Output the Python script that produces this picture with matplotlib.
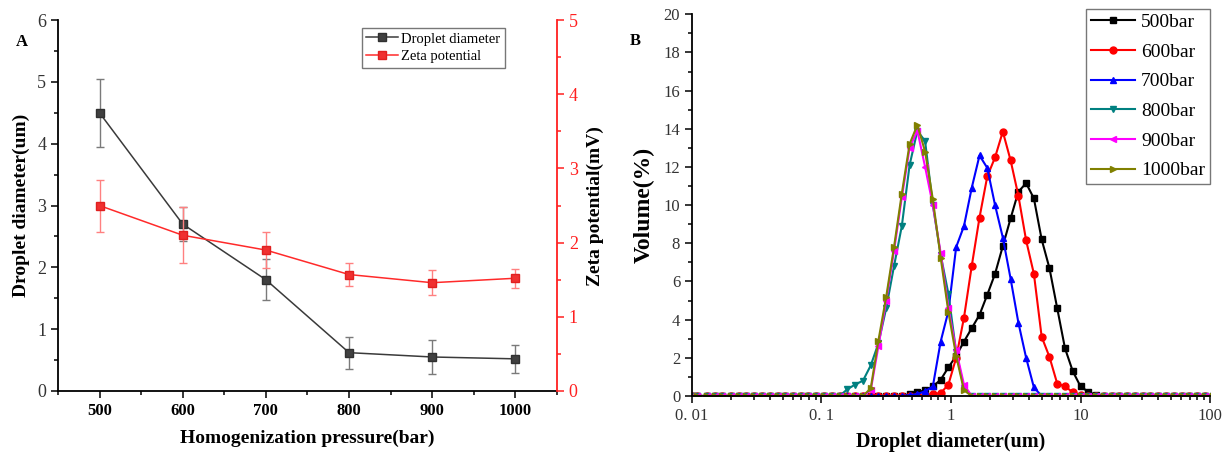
import numpy as np
import matplotlib
matplotlib.use('Agg')
import matplotlib.pyplot as plt
from matplotlib.lines import Line2D
from matplotlib.ticker import MultipleLocator, LogLocator, FixedLocator, FixedFormatter, NullFormatter

plt.rcParams['font.family'] = ['Liberation Serif', 'DejaVu Serif']

# ---- panel A data ----
pressure = [500, 600, 700, 800, 900, 1000]
diameter = [4.50, 2.70, 1.80, 0.62, 0.55, 0.52]
diameter_err = [0.55, 0.28, 0.33, 0.26, 0.28, 0.23]
zeta = [2.50, 2.10, 1.90, 1.57, 1.46, 1.52]
zeta_err = [0.35, 0.38, 0.24, 0.16, 0.17, 0.13]

# ---- panel B data (size classes in um, volume %) ----
size_classes = [0.010, 0.011, 0.013, 0.015, 0.017, 0.020, 0.023, 0.026, 0.030, 0.035,
                0.040, 0.046, 0.052, 0.060, 0.069, 0.079, 0.091, 0.105, 0.120, 0.138,
                0.158, 0.182, 0.209, 0.240, 0.275, 0.316, 0.363, 0.417, 0.479, 0.550,
                0.631, 0.724, 0.832, 0.955, 1.096, 1.259, 1.445, 1.660, 1.905, 2.188,
                2.512, 2.884, 3.311, 3.802, 4.365, 5.012, 5.754, 6.607, 7.586, 8.710,
                10.00, 11.48, 13.18, 15.14, 17.38, 19.95, 22.91, 26.30, 30.20, 34.67,
                39.81, 45.71, 52.48, 60.26, 69.18, 79.43, 91.20, 104.7]
labels_b = ['500bar', '600bar', '700bar', '800bar', '900bar', '1000bar']
# first non-zero class index and the non-zero values, everything else is 0
start_b = [28, 30, 28, 20, 23, 23]
peaks_b = [
    [0.1, 0.2, 0.3, 0.5, 0.85, 1.5, 2.1, 2.85, 3.55, 4.25, 5.3, 6.4, 7.85, 9.3, 10.7,
     11.15, 10.35, 8.2, 6.7, 4.6, 2.5, 1.3, 0.5, 0.22, 0.05],
    [0.05, 0.1, 0.15, 0.6, 2.0, 4.1, 6.8, 9.35, 11.5, 12.5, 13.85, 12.35, 10.5, 8.15,
     6.4, 3.1, 2.05, 0.65, 0.5, 0.2, 0.05],
    [0.05, 0.1, 0.25, 0.5, 2.85, 4.45, 7.8, 8.9, 10.9, 12.6, 11.95, 10.0, 8.3, 6.15,
     3.85, 2.0, 0.45],
    [0.35, 0.6, 0.8, 1.6, 2.75, 4.6, 6.8, 8.9, 12.1, 13.9, 13.35, 10.0, 7.4, 5.35, 2.3, 0.4],
    [0.3, 2.6, 5.0, 7.6, 10.4, 13.0, 13.9, 12.0, 10.0, 7.5, 4.6, 2.4, 0.6],
    [0.4, 2.9, 5.2, 7.8, 10.6, 13.2, 14.2, 12.8, 10.3, 7.25, 4.4, 2.1, 0.3],
]
colors_b = ['black', 'red', 'blue', '#008080', 'magenta', '#808000']
markers_b = ['s', 'o', '^', 'v', '<', '>']

fig = plt.figure(figsize=(12.23, 4.55), dpi=100)

# ================= A =================
ax = fig.add_axes([0.0474, 0.1407, 0.408, 0.815])
ax2 = ax.twinx()
gray_line = '#3a3a3a'
red_line = '#ff2a2a'
ax.errorbar(pressure, diameter, yerr=diameter_err, color=gray_line, lw=1.1,
            marker='s', ms=6, mfc='#404040', mec='#303030', ecolor='#7a7a7a',
            elinewidth=1.0, capsize=3, capthick=1.0, zorder=3)
ax2.errorbar(pressure, zeta, yerr=zeta_err, color=red_line, lw=1.1,
             marker='s', ms=6, mfc='#f03030', mec='#e02020', ecolor='#ff8080',
             elinewidth=1.0, capsize=3, capthick=1.0, zorder=3)

ax.set_xlim(450, 1050)
ax.set_ylim(0, 6)
ax2.set_ylim(0, 5)
ax.xaxis.set_major_locator(MultipleLocator(100))
ax.xaxis.set_minor_locator(MultipleLocator(50))
ax.yaxis.set_major_locator(MultipleLocator(1))
ax.yaxis.set_minor_locator(MultipleLocator(0.5))
ax2.yaxis.set_major_locator(MultipleLocator(1))
ax2.yaxis.set_minor_locator(MultipleLocator(0.5))

for a in (ax, ax2):
    a.spines['top'].set_visible(False)
ax.spines['right'].set_visible(False)
ax2.spines['left'].set_visible(False)
ax2.spines['bottom'].set_visible(False)
ax2.spines['right'].set_color('#ff2020')
ax2.spines['right'].set_linewidth(1.3)
ax.spines['left'].set_linewidth(1.3)
ax.spines['bottom'].set_linewidth(1.3)

ax.tick_params(axis='both', which='both', direction='out', width=1.1)
ax.tick_params(axis='both', which='major', length=5)
ax.tick_params(axis='both', which='minor', length=3)
ax.tick_params(axis='y', labelsize=13, labelcolor='#333333')
ax.tick_params(axis='x', labelsize=12)
for t in ax.get_xticklabels():
    t.set_fontweight('bold')
ax2.tick_params(axis='y', which='both', colors='#ff2020', direction='out', width=1.1, labelsize=13)
ax2.tick_params(axis='y', which='major', length=5)
ax2.tick_params(axis='y', which='minor', length=3)

ax.set_xlabel('Homogenization pressure(bar)', fontsize=14, fontweight='bold', labelpad=8)
ax.set_ylabel('Droplet diameter(um)', fontsize=14, fontweight='bold', labelpad=5)
ax2.set_ylabel('Zeta potential(mV)', fontsize=14, fontweight='bold', labelpad=6)
ax.text(-0.085, 0.93, 'A', transform=ax.transAxes, fontsize=12, fontweight='bold')

handles_a = [Line2D([], [], color=gray_line, lw=1.1, marker='s', ms=6, mfc='#404040', mec='#303030'),
             Line2D([], [], color=red_line, lw=1.1, marker='s', ms=6, mfc='#f03030', mec='#e02020')]
leg = ax2.legend(handles_a, ['Droplet diameter', 'Zeta potential'], loc='upper left',
                 bbox_to_anchor=(362 / 1223, 1 - 28 / 455), bbox_transform=fig.transFigure,
                 fontsize=10.5, frameon=True, fancybox=False, edgecolor='#555555', borderpad=0.3,
                 handlelength=2.2, handletextpad=0.2, labelspacing=0.3, borderaxespad=0)
leg.get_frame().set_linewidth(1.0)

# ================= B =================
bx = fig.add_axes([0.5658, 0.1297, 0.4236, 0.839])
for lab, st, vals, c, m in zip(labels_b, start_b, peaks_b, colors_b, markers_b):
    vol = np.zeros(len(size_classes))
    vol[st:st + len(vals)] = vals
    bx.plot(size_classes, vol, color=c, marker=m, ms=5, lw=1.5, label=lab, clip_on=True)

bx.set_xscale('log')
bx.set_xlim(0.01, 100)
bx.set_ylim(0, 20)
bx.yaxis.set_major_locator(MultipleLocator(2))
bx.yaxis.set_minor_locator(MultipleLocator(1))
bx.xaxis.set_major_locator(FixedLocator([0.01, 0.1, 1, 10, 100]))
bx.xaxis.set_major_formatter(FixedFormatter(['0. 01', '0. 1', '1', '10', '100']))
bx.xaxis.set_minor_locator(LogLocator(base=10, subs=np.arange(2, 10)))
bx.xaxis.set_minor_formatter(NullFormatter())
bx.spines['top'].set_visible(False)
bx.spines['right'].set_visible(False)
bx.spines['left'].set_linewidth(1.3)
bx.spines['bottom'].set_linewidth(1.3)
bx.tick_params(axis='both', which='both', direction='out', width=1.1, labelcolor='#333333')
bx.tick_params(axis='both', which='major', length=5, labelsize=12)
bx.tick_params(axis='both', which='minor', length=3)

bx.set_xlabel('Droplet diameter(um)', fontsize=14.5, fontweight='bold', labelpad=6)
bx.set_ylabel('Volume(%)', fontsize=17, fontweight='bold', labelpad=6)
bx.text(-0.12, 0.92, 'B', transform=bx.transAxes, fontsize=12, fontweight='bold')

legb = bx.legend(loc='upper right', bbox_to_anchor=(1.0, 1.015), fontsize=14, frameon=True,
                 fancybox=False, edgecolor='#555555', borderpad=0.25, handlelength=2.3,
                 handletextpad=0.3, labelspacing=0.62, borderaxespad=0)
legb.get_frame().set_linewidth(1.0)

fig.savefig('out.png', dpi=100)
